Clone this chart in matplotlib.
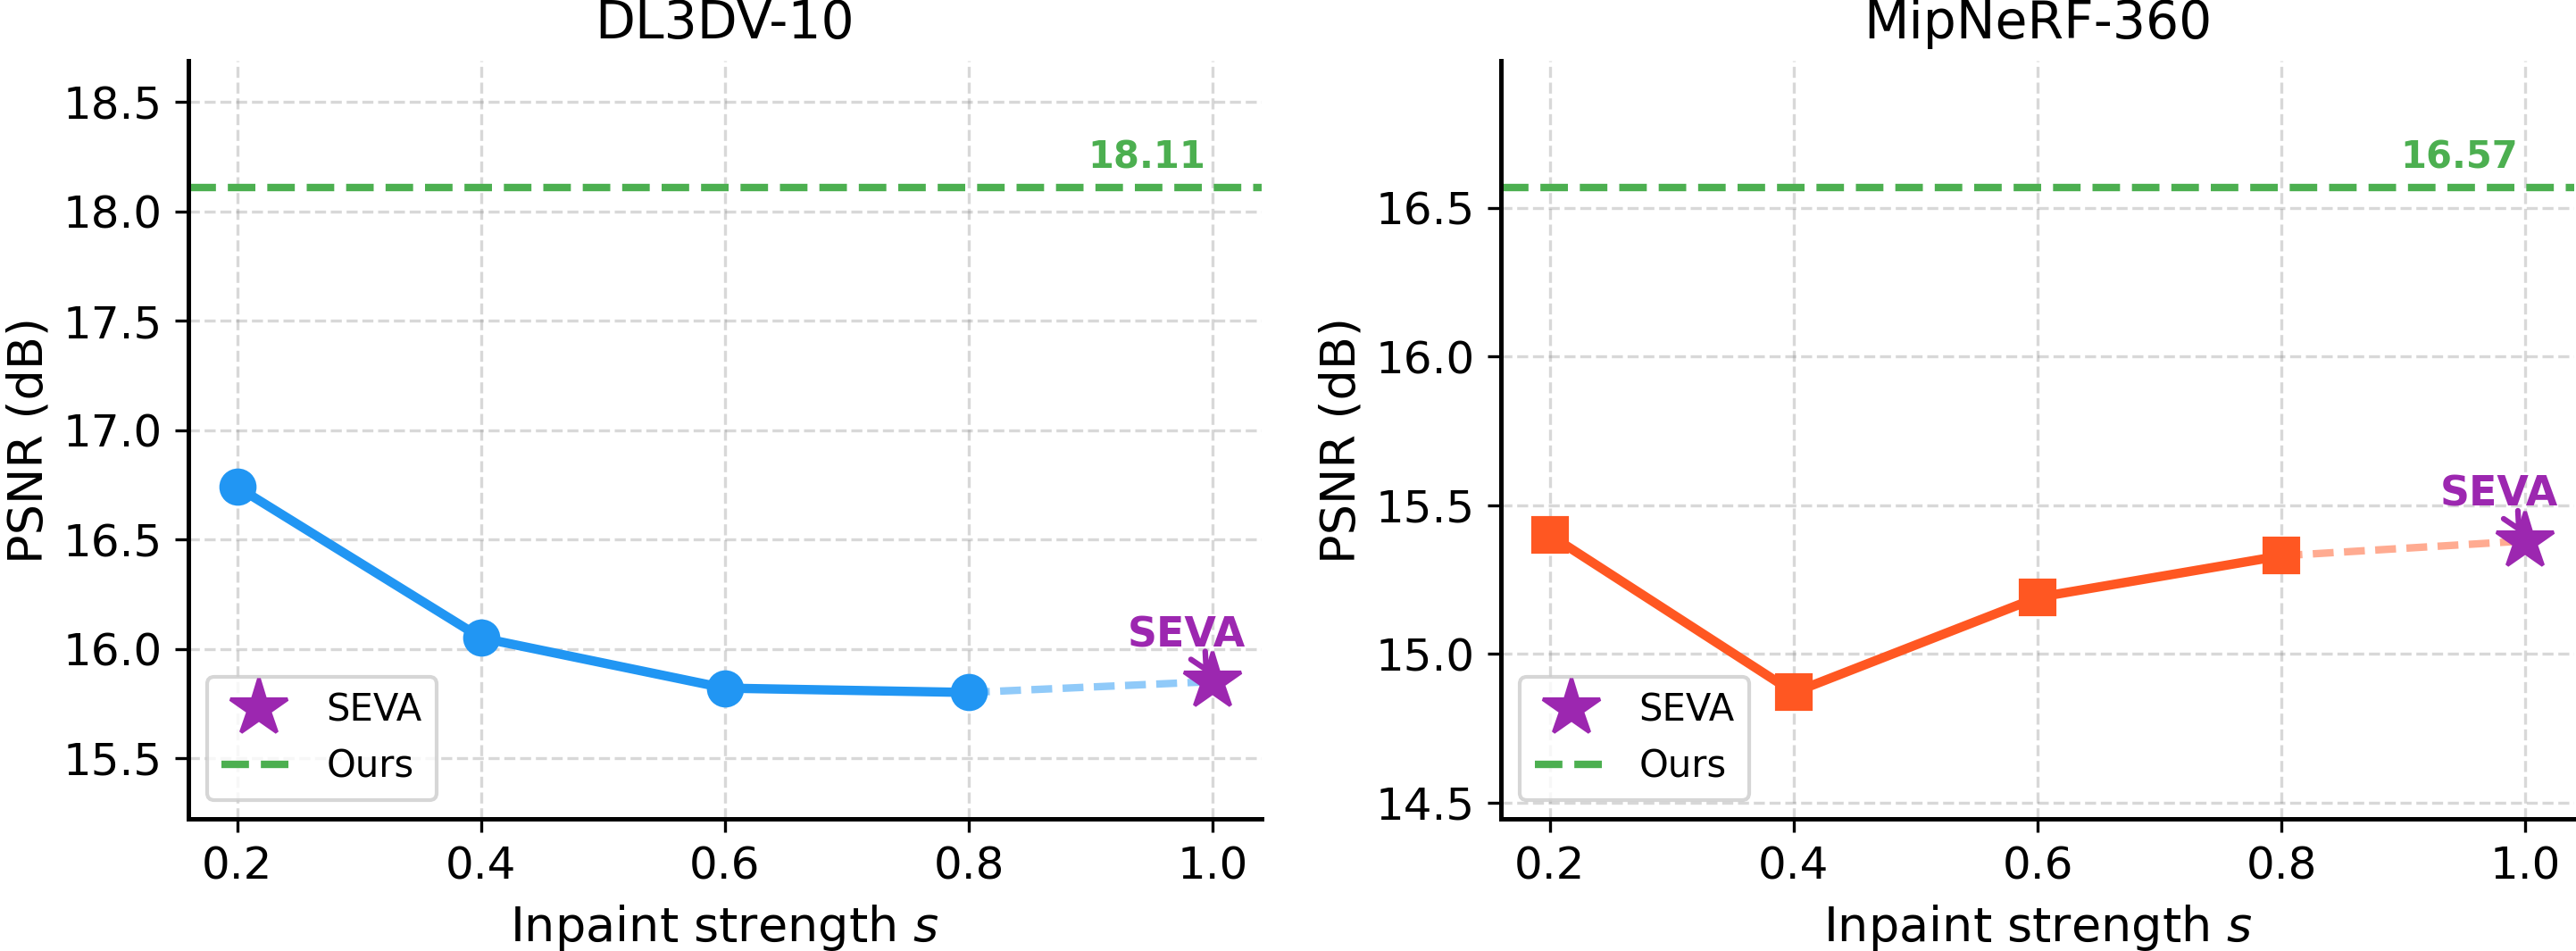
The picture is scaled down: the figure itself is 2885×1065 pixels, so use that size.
import matplotlib
matplotlib.use("Agg")
import matplotlib.pyplot as plt
import numpy as np

# inpaint strength values
strength = [0.2, 0.4, 0.6, 0.8]
seva_x = 1.0

datasets = ["DL3DV-10", "MipNeRF-360"]
psnr_dl3dv = [16.74, 16.05, 15.82, 15.80]
psnr_mip = [15.40, 14.87, 15.19, 15.33]
seva_psnr = [15.85, 15.38]
ours_psnr = [18.11, 16.57]

series = [psnr_dl3dv, psnr_mip]
markers = ["o", "s"]
colors = ["#2196F3", "#FF5722"]
light_colors = ["#90CAF9", "#FFAB91"]
purple = "#9C27B0"
green = "#4CAF50"

fig = plt.figure(figsize=(9.62, 3.55), dpi=300)
ax_pos = [[0.0731, 0.139, 0.4165, 0.797], [0.5825, 0.139, 0.4165, 0.797]]

for i in range(2):
    ax = fig.add_axes(ax_pos[i])
    vals = series[i]

    ax.plot(strength, vals, marker=markers[i], color=colors[i], lw=2.5, ms=9, zorder=3)
    ax.plot([strength[-1], seva_x], [vals[-1], seva_psnr[i]], color=light_colors[i],
            lw=2, linestyle=(0, (2.8, 1.4)), zorder=2)
    ax.plot(seva_x, seva_psnr[i], marker="*", color=purple, ms=16, linestyle="none",
            label="SEVA", zorder=4)
    ax.axhline(ours_psnr[i], color=green, lw=2, linestyle="--", label="Ours", zorder=2)

    ax.annotate(f"{ours_psnr[i]:.2f}", xy=(seva_x, ours_psnr[i]), xytext=(-2, 3),
                textcoords="offset points", ha="right", va="bottom",
                color=green, fontsize=10, fontweight="bold")
    ax.annotate("SEVA", xy=(seva_x, seva_psnr[i]), xytext=(-7, 7),
                textcoords="offset points", ha="center", va="bottom",
                color=purple, fontsize=11, fontweight="bold",
                arrowprops=dict(arrowstyle="->", color=purple, lw=1.5))

    lo = min(min(vals), seva_psnr[i])
    hi = ours_psnr[i]
    rng = hi - lo
    ax.set_ylim(lo - 0.25 * rng, hi + 0.25 * rng)
    ax.set_xticks([0.2, 0.4, 0.6, 0.8, 1.0])

    ax.set_title(datasets[i], fontsize=14)
    ax.set_xlabel("Inpaint strength $s$", fontsize=13)
    ax.set_ylabel("PSNR (dB)", fontsize=13, labelpad=3)
    ax.tick_params(labelsize=12)
    ax.grid(True, linestyle="--", color="gray", alpha=0.3, lw=0.8)
    ax.spines["top"].set_visible(False)
    ax.spines["right"].set_visible(False)
    ax.spines["left"].set_linewidth(1.2)
    ax.spines["bottom"].set_linewidth(1.2)
    ax.legend(loc="lower left", fontsize=10)

fig.savefig("out.png", dpi=300)
